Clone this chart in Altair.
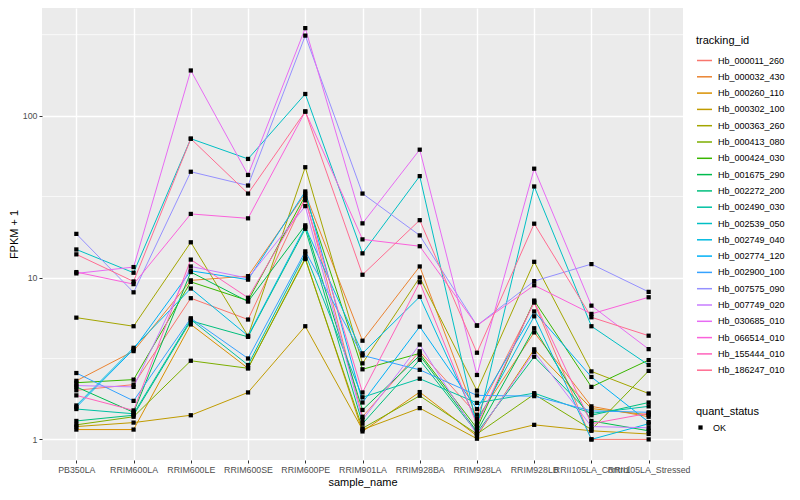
import altair as alt
import pandas as pd

samples = ["PB350LA", "RRIM600LA", "RRIM600LE", "RRIM600SE", "RRIM600PE", "RRIM901LA",
           "RRIM928BA", "RRIM928LA", "RRIM928LB", "RRII105LA_Control", "RRII105LA_Stressed"]

ids = ["Hb_000011_260", "Hb_000032_430", "Hb_000260_110", "Hb_000302_100", "Hb_000363_260",
       "Hb_000413_080", "Hb_000424_030", "Hb_001675_290", "Hb_002272_200", "Hb_002490_030",
       "Hb_002539_050", "Hb_002749_040", "Hb_002774_120", "Hb_002900_100", "Hb_007575_090",
       "Hb_007749_020", "Hb_030685_010", "Hb_066514_010", "Hb_155444_010", "Hb_186247_010"]

palette = ["#F8766D", "#EA8331", "#D89000", "#C09B00", "#A3A500", "#7CAE00", "#39B600",
           "#00BB4E", "#00BF7D", "#00C1A3", "#00BFC4", "#00BAE0", "#00B0F6", "#35A2FF",
           "#9590FF", "#C77CFF", "#E76BF3", "#FA62DB", "#FF62BC", "#FF6C91"]

hb_000011_260 = [2.01, 2.18, 7.45, 5.5, 31, 1.38, 3.5, 1.42, 7.0, 1.0, 1.0]
hb_000032_430 = [2.30, 3.51, 9.6, 10.2, 33, 4.07, 11.7, 1.34, 4.58, 1.6, 1.38]
hb_000260_110 = [1.15, 1.15, 5.13, 2.75, 13.2, 1.12, 1.96, 1.05, 3.6, 1.55, 1.42]
hb_000302_100 = [1.20, 1.27, 1.41, 1.95, 5.0, 1.15, 1.56, 1.01, 1.23, 1.13, 1.08]
hb_000363_260 = [5.65, 5.0, 16.5, 4.35, 48, 2.95, 10.0, 2.0, 12.5, 2.63, 1.92]
hb_000413_080 = [1.23, 1.38, 3.06, 2.75, 13.0, 1.17, 1.86, 1.08, 1.9, 1.15, 2.65]
hb_000424_030 = [2.24, 2.34, 9.4, 7.2, 32, 2.71, 3.4, 1.17, 7.2, 2.11, 3.09]
hb_001675_290 = [2.11, 1.47, 10.8, 7.1, 21, 1.52, 3.3, 1.12, 4.86, 1.3, 1.13]
hb_002272_200 = [1.30, 1.41, 5.4, 4.3, 20, 1.25, 3.1, 1.10, 3.24, 1.41, 1.69]
hb_002490_030 = [1.54, 1.44, 5.5, 2.88, 14, 1.82, 2.37, 1.68, 1.93, 1.45, 1.6]
hb_002539_050 = [14.9, 10.7, 72, 54, 136, 14.1, 42.3, 1.2, 36.5, 5.0, 2.88]
hb_002749_040 = [1.62, 3.68, 8.55, 4.36, 20.5, 3.4, 7.6, 1.28, 5.76, 1.0, 1.25]
hb_002774_120 = [1.58, 3.6, 11.0, 9.7, 34, 1.69, 4.97, 1.54, 6.17, 2.43, 1.28]
hb_002900_100 = [2.57, 1.73, 5.6, 3.16, 14.5, 3.3, 2.69, 1.87, 1.85, 1.5, 1.47]
hb_007575_090 = [18.6, 8.1, 45, 37, 312, 33, 18.2, 5.05, 9.5, 12.1, 8.15]
hb_007749_020 = [2.15, 2.11, 11.7, 9.9, 27.6, 1.32, 3.85, 1.07, 3.47, 1.2, 1.18]
hb_030685_010 = [10.6, 11.6, 190, 43, 347, 21.6, 61.6, 2.5, 47, 6.7, 3.61]
hb_066514_010 = [10.8, 9.1, 24.7, 23.2, 106, 17.2, 15.6, 5.05, 8.95, 5.96, 7.55]
hb_155444_010 = [1.87, 1.51, 12.9, 7.5, 30, 1.95, 9.35, 1.23, 7.1, 1.25, 1.45]
hb_186247_010 = [13.9, 9.45, 72, 33, 106, 10.4, 22.6, 3.43, 21.5, 5.68, 4.37]

series = [hb_000011_260, hb_000032_430, hb_000260_110, hb_000302_100, hb_000363_260,
          hb_000413_080, hb_000424_030, hb_001675_290, hb_002272_200, hb_002490_030,
          hb_002539_050, hb_002749_040, hb_002774_120, hb_002900_100, hb_007575_090,
          hb_007749_020, hb_030685_010, hb_066514_010, hb_155444_010, hb_186247_010]

minor_breaks = [3.1623, 31.623, 316.23]

rows = []
for k, (tid, vals) in enumerate(zip(ids, series)):
    for s, v in zip(samples, vals):
        rows.append({"tracking_id": tid, "order": k, "sample_name": s,
                     "fpkm1": v, "quant_status": "OK"})
df = pd.DataFrame(rows)
minor_df = pd.DataFrame({"fpkm1": minor_breaks})

FONT = "Liberation Sans"

yscale = alt.Scale(type="log", domain=[0.746, 462], nice=False)
yaxis = alt.Axis(title="FPKM + 1", values=[1, 10, 100], format="d", grid=True,
                 gridColor="white", gridWidth=1.4, domain=False, tickColor="#333333",
                 tickSize=3, labelColor="#4D4D4D", labelFontSize=8.8, labelPadding=2,
                 titleFontSize=11, titleFontWeight="normal", titleColor="black",
                 titlePadding=3)
xaxis = alt.Axis(title="sample_name", labelAngle=0, labelOverlap=False, labelBound=False,
                 grid=True, gridColor="white", gridWidth=1.4, domain=False,
                 tickColor="#333333", tickSize=3, labelColor="#4D4D4D", labelFontSize=8.8,
                 labelPadding=2, titleFontSize=11, titleFontWeight="normal",
                 titleColor="black", titlePadding=3)
xenc = alt.X("sample_name:N", sort=samples, scale=alt.Scale(type="point", padding=0.6),
             axis=xaxis)
yenc = alt.Y("fpkm1:Q", scale=yscale, axis=yaxis)

minor = alt.Chart(minor_df).mark_rule(color="white", strokeWidth=0.7).encode(
    y=alt.Y("fpkm1:Q", scale=yscale, axis=yaxis)
)

lines = alt.Chart(df).mark_line(strokeWidth=1).encode(
    x=xenc, y=yenc,
    color=alt.Color("tracking_id:N", scale=alt.Scale(domain=ids, range=palette),
                    legend=alt.Legend(title="tracking_id", orient="none", legendX=654,
                                      legendY=27, symbolType="stroke", symbolSize=225,
                                      symbolStrokeWidth=1.5, labelFontSize=9,
                                      labelColor="black", labelOffset=5,
                                      titleFontSize=11, titleFontWeight="normal",
                                      titleColor="black", titlePadding=6,
                                      rowPadding=2.3, labelFont=FONT, titleFont=FONT)),
    detail="tracking_id:N",
    order="order:Q",
)

points = alt.Chart(df).mark_point(filled=True, color="black", size=18, opacity=1).encode(
    x=xenc, y=yenc,
    shape=alt.Shape("quant_status:N", scale=alt.Scale(domain=["OK"], range=["square"]),
                    legend=alt.Legend(title="quant_status", orient="none", legendX=654,
                                      legendY=398, symbolFillColor="black",
                                      symbolStrokeColor="black", symbolSize=18,
                                      labelFontSize=9, labelColor="black", labelOffset=8,
                                      titleFontSize=11, titleFontWeight="normal",
                                      titleColor="black", titlePadding=6,
                                      labelFont=FONT, titleFont=FONT)),
)

chart = alt.layer(minor, lines, points).resolve_scale(
    color="independent", shape="independent"
).properties(
    width=641, height=452,
    autosize=alt.AutoSizeParams(type="none"),
    padding={"left": 34, "top": 0, "right": 109, "bottom": 28},
).configure(
    font=FONT,
).configure_view(
    fill="#EBEBEB", stroke=None,
).configure_axis(
    labelFont=FONT, titleFont=FONT,
)

chart.save("out.html", embed_options={"renderer": "svg", "actions": False})
